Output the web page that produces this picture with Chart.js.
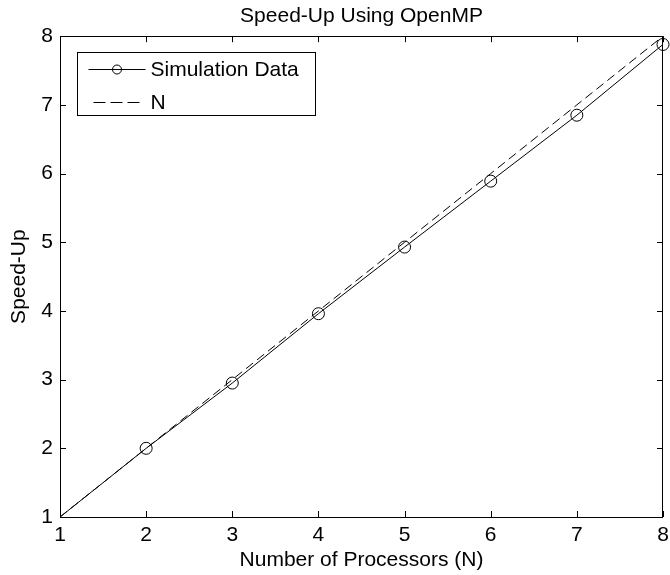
<!DOCTYPE html>
<html>
<head>
<meta charset="utf-8">
<title>Speed-Up Using OpenMP</title>
<script src="https://cdn.jsdelivr.net/npm/chart.js@4"></script>
<style>
  html, body { margin: 0; padding: 0; background: #fff; }
  canvas { display: block; }
</style>
</head>
<body>
<canvas id="myChart" width="670" height="575"></canvas>
<script>
// processor counts and measured speed-up
const processors = [1, 2, 3, 4, 5, 6, 7, 8];
const speedUp = [1, 2.0, 2.95, 3.96, 4.93, 5.89, 6.85, 7.88];
// ideal (linear) speed-up
const ideal = [1, 2, 3, 4, 5, 6, 7, 8];
const tickValues = [1, 2, 3, 4, 5, 6, 7, 8];

const FONT = "'Liberation Sans', Arial, Helvetica, sans-serif";
Chart.defaults.color = '#000';
Chart.defaults.font.family = FONT;
Chart.defaults.font.size = 21;

// box round the axes, with tick marks pointing inwards on every side
const axesBox = {
    id: 'axesBox',
    afterDatasetsDraw: function (chart) {
        const ctx = chart.ctx;
        const a = chart.chartArea;
        const x = chart.scales.x;
        const y = chart.scales.y;
        const len = 6;
        ctx.save();
        ctx.strokeStyle = '#000';
        ctx.lineWidth = 1;
        ctx.beginPath();
        x.ticks.forEach(function (t) {
            const px = Math.round(x.getPixelForValue(t.value)) + 0.5;
            ctx.moveTo(px, a.bottom);
            ctx.lineTo(px, a.bottom - len);
            ctx.moveTo(px, a.top);
            ctx.lineTo(px, a.top + len);
        });
        y.ticks.forEach(function (t) {
            const py = Math.round(y.getPixelForValue(t.value)) + 0.5;
            ctx.moveTo(a.left, py);
            ctx.lineTo(a.left + len, py);
            ctx.moveTo(a.right, py);
            ctx.lineTo(a.right - len, py);
        });
        ctx.stroke();
        ctx.strokeRect(Math.round(a.left) + 0.5, Math.round(a.top) + 0.5,
            Math.round(a.right - a.left) - 1, Math.round(a.bottom - a.top));
        ctx.restore();
    }
};

// boxed legend in the upper left corner of the axes
const boxLegend = {
    id: 'boxLegend',
    afterDraw: function (chart) {
        const ctx = chart.ctx;
        const a = chart.chartArea;
        const bx = Math.round(a.left) + 17.5;
        const by = Math.round(a.top) + 16.5;
        const bw = 238;
        const bh = 63;
        ctx.save();
        ctx.fillStyle = '#fff';
        ctx.fillRect(bx, by, bw, bh);
        ctx.strokeStyle = '#000';
        ctx.lineWidth = 1;
        ctx.strokeRect(bx, by, bw, bh);

        const sx0 = bx + 11;
        const sx1 = bx + 68;
        const tx = bx + 73;
        chart.data.datasets.forEach(function (ds, i) {
            const ry = by + 17 + i * 33;
            ctx.beginPath();
            if (ds.borderDash) {
                // legend sample: three long dashes
                ctx.setLineDash([12, 5]);
                ctx.moveTo(sx0 + 5, ry);
                ctx.lineTo(sx1 - 6, ry);
            } else {
                ctx.moveTo(sx0, ry);
                ctx.lineTo(sx1, ry);
            }
            ctx.stroke();
            ctx.setLineDash([]);
            if (ds.pointRadius && ds.pointRadius.length) {
                ctx.beginPath();
                ctx.arc((sx0 + sx1) / 2, ry, 4.5, 0, Math.PI * 2);
                ctx.stroke();
            }
            ctx.fillStyle = '#000';
            ctx.font = '21px ' + FONT;
            ctx.textBaseline = 'middle';
            ctx.textAlign = 'left';
            ctx.fillText(ds.label, tx, ry + 1);
        });
        ctx.restore();
    }
};

const ctx = document.getElementById('myChart').getContext('2d');

const myChart = new Chart(ctx, {
    type: 'line',
    data: {
        datasets: [{
            label: 'Simulation Data',
            data: processors.map(function (p, i) { return { x: p, y: speedUp[i] }; }),
            borderColor: '#000',
            borderWidth: 1,
            pointStyle: 'circle',
            pointRadius: processors.map(function (p) { return p === 1 ? 0 : 6; }),
            pointBorderColor: '#000',
            pointBackgroundColor: 'rgba(0,0,0,0)',
            pointBorderWidth: 1,
            tension: 0,
            clip: false
        }, {
            label: 'N',
            data: processors.map(function (p, i) { return { x: p, y: ideal[i] }; }),
            borderColor: '#000',
            borderWidth: 1,
            borderDash: [9, 5],
            pointRadius: 0,
            tension: 0,
            clip: false
        }]
    },
    options: {
        responsive: false,
        animation: false,
        events: [],
        layout: {
            padding: { left: 0, right: 2, top: 0, bottom: 0 }
        },
        scales: {
            x: {
                type: 'linear',
                min: 1,
                max: 8,
                afterBuildTicks: function (scale) {
                    scale.ticks = tickValues.map(function (v) { return { value: v }; });
                },
                afterFit: function (scale) {
                    scale.height = 58;
                    scale.paddingLeft = 0;
                    scale.paddingRight = 0;
                },
                grid: { display: false, drawTicks: false },
                border: { display: false },
                ticks: { padding: 6, maxRotation: 0, autoSkip: false, color: '#000' },
                title: {
                    display: true,
                    text: 'Number of Processors (N)',
                    color: '#000',
                    padding: { top: 0, bottom: 2 }
                }
            },
            y: {
                type: 'linear',
                min: 1,
                max: 8,
                afterBuildTicks: function (scale) {
                    scale.ticks = tickValues.map(function (v) { return { value: v }; });
                },
                afterFit: function (scale) {
                    scale.width = 60;
                    scale.paddingTop = 0;
                    scale.paddingBottom = 0;
                },
                grid: { display: false, drawTicks: false },
                border: { display: false },
                ticks: { padding: 7, autoSkip: false, color: '#000' },
                title: {
                    display: true,
                    text: 'Speed-Up',
                    color: '#000',
                    padding: { top: 7, bottom: 0 }
                }
            }
        },
        plugins: {
            legend: { display: false },
            tooltip: { enabled: false },
            title: {
                display: true,
                text: 'Speed-Up Using OpenMP',
                fullSize: false,
                color: '#000',
                font: { size: 21, weight: 'normal' },
                padding: { top: 4, bottom: 7 }
            }
        }
    },
    plugins: [axesBox, boxLegend]
});
</script>
</body>
</html>
